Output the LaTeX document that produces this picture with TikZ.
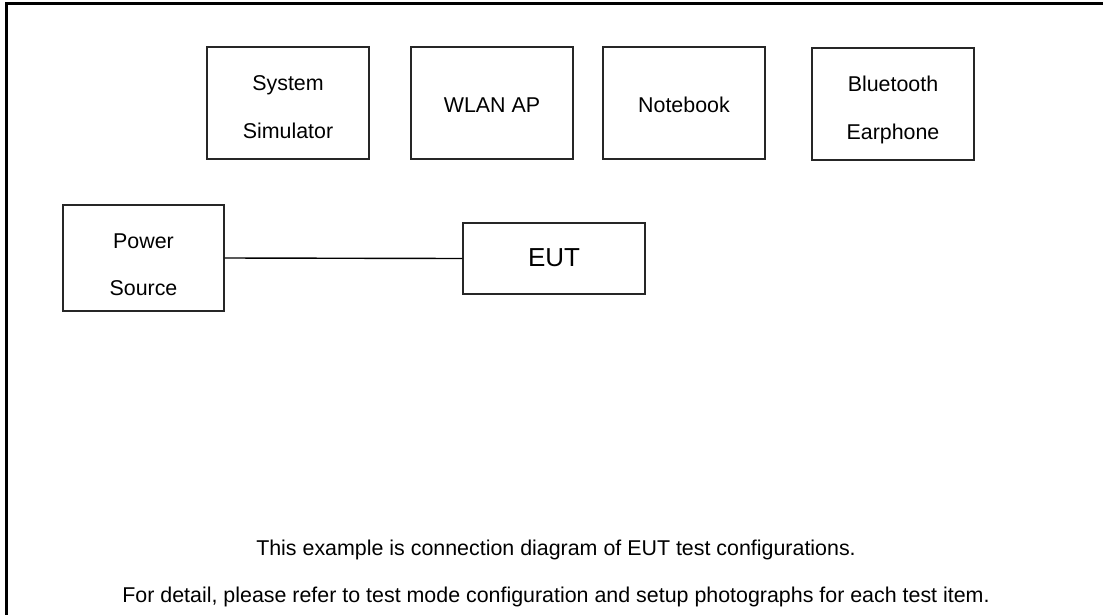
\documentclass[tikz,border=0pt]{standalone}
\usepackage{fontspec}
\setmainfont{Liberation Sans}
\begin{document}
\begin{tikzpicture}[x=1pt,y=-1pt,
  box/.style={draw=black!85, line width=1.1pt, inner sep=0pt},
  txt/.style={inner sep=0pt, anchor=base, font=\fontsize{21.4}{25}\selectfont},
  bigtxt/.style={inner sep=0pt, anchor=base, font=\fontsize{26}{30}\selectfont},
  frame/.style={line width=2.6pt},
  conn/.style={line width=1.4pt}]
\useasboundingbox (0,0) rectangle (1112,614);
% outer frame (top and left visible)
\coordinate (fbl) at (6.3,616);
\coordinate (ftl) at (6.3,3.3);
\coordinate (ftr) at (1103,3.3);
\draw[frame] (fbl) -- (ftl) -- (ftr);
% boxes
\node[box, minimum width=162pt, minimum height=112pt] (sim) at (288,103) {};
\node[box, minimum width=162pt, minimum height=112pt] (wlan) at (492,103) {};
\node[box, minimum width=162pt, minimum height=112pt] (note) at (684,103) {};
\node[box, minimum width=162pt, minimum height=112pt] (bt) at (893,104) {};
\node[box, minimum width=161pt, minimum height=106pt] (pwr) at (143.5,258) {};
\node[box, minimum width=182pt, minimum height=71pt] (eut) at (554,258.5) {};
% labels
\node[txt] (simA) at (288,90) {System};
\node[txt] (simB) at (288,138) {Simulator};
\node[txt] (wlanA) at (492,112) {WLAN AP};
\node[txt] (noteA) at (684,112) {Notebook};
\node[txt] (btA) at (893,91) {Bluetooth};
\node[txt] (btB) at (893,139) {Earphone};
\node[txt] (pwrA) at (143.5,248) {Power};
\node[txt] (pwrB) at (143.5,295) {Source};
\node[bigtxt] (eutA) at (554,266) {EUT};
% connector
\draw[conn] (pwr.east) -- (eut.west);
% notes
\node[txt] (n1) at (556,555) {This example is connection diagram of EUT test configurations.};
\node[txt] (n2) at (556,602.5) {For detail, please refer to test mode configuration and setup photographs for each test item.};
\end{tikzpicture}
\end{document}
